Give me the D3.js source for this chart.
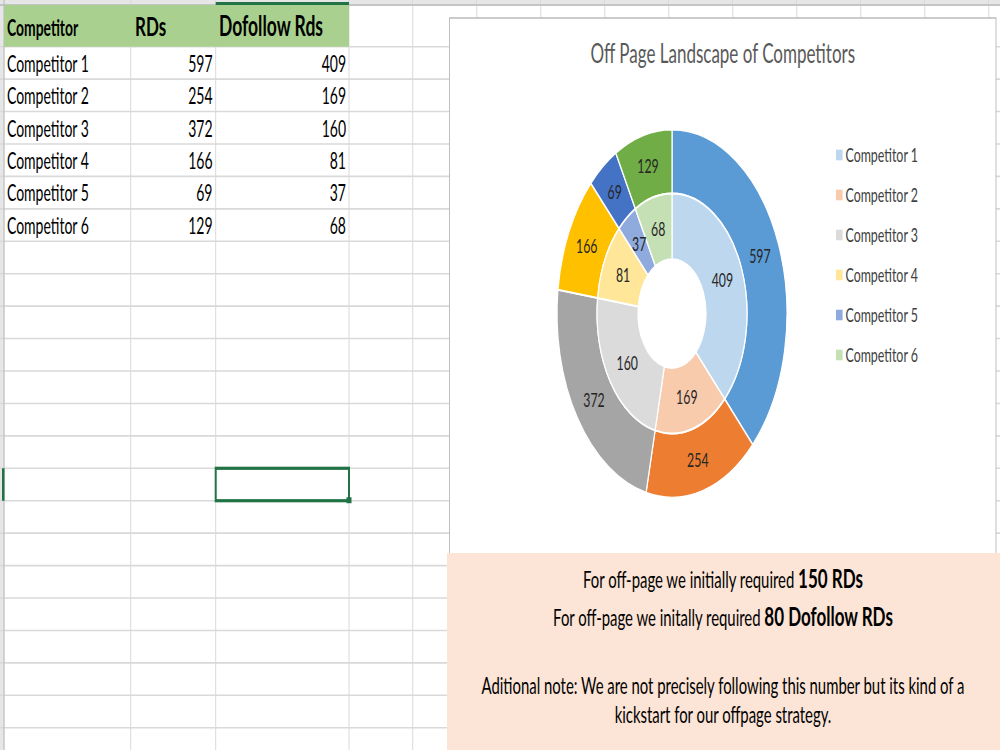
<!DOCTYPE html>
<html>
<head>
<meta charset="utf-8">
<script src="https://cdn.jsdelivr.net/npm/d3@7"></script>
<style>
  body { margin: 0; background: #fff; }
  svg { display: block; font-family: Lato, "Noto Sans", sans-serif; }
</style>
</head>
<body>
<svg id="sheet" width="1000" height="750"></svg>
<script>
/* Data */
const headers = ["Competitor", "RDs", "Dofollow Rds"];
const competitors = ["Competitor 1", "Competitor 2", "Competitor 3", "Competitor 4", "Competitor 5", "Competitor 6"];
const rds = [597, 254, 372, 166, 69, 129];
const dofollow = [409, 169, 160, 81, 37, 68];

const chartTitle = "Off Page Landscape of Competitors";
const noteLines = [
  [["For off-page we initially required ", false], ["150 RDs", true]],
  [["For off-page we initally required ", false], ["80 Dofollow RDs", true]],
  [["Aditional note: We are not precisely following this number but its kind of a", false]],
  [["kickstart for our offpage strategy.", false]],
];

const outerColors = ["#5B9BD5", "#ED7D31", "#A5A5A5", "#FFC000", "#4472C4", "#70AD47"];
const innerColors = ["#BDD7EE", "#F8CBAD", "#DBDBDB", "#FFE699", "#8FAADC", "#C5E0B4"];

// the screenshot is squashed: everything is 1.6x taller than wide,
// so draw in unstretched units and scale the whole sheet vertically
const SY = 1.6;
const y = (v) => v / SY;

const svg = d3.select("#sheet");
const sheet = svg.append("g").attr("transform", `scale(1,${SY})`);

/* ---- spreadsheet grid ---- */
const headerTop = 5, headerBottom = 46.7, rowH = 32.43;
const colEdges = [4, 130.7, 215.7, 349, 412.7];
for (let x = 412.7 + 64; x < 1000; x += 64) colEdges.push(x);
const rowEdges = [headerTop];
for (let r = headerBottom; r < 760; r += rowH) rowEdges.push(r);

// column header strip + row header strip
sheet.append("rect").attr("x", 0).attr("y", 0).attr("width", 1000).attr("height", y(headerTop)).attr("fill", "#E6E6E6");
sheet.append("rect").attr("x", 0).attr("y", 0).attr("width", 4).attr("height", y(750)).attr("fill", "#E6E6E6");

const grid = sheet.append("g").attr("stroke", "#D9D9D9").attr("stroke-width", 1);
grid.selectAll(".v").data(colEdges).join("line")
  .attr("x1", (d) => d).attr("x2", (d) => d)
  .attr("y1", 0).attr("y2", y(750));
grid.selectAll(".h").data(rowEdges).join("line")
  .attr("x1", 0).attr("x2", 1000)
  .attr("y1", (d) => y(d)).attr("y2", (d) => y(d));

sheet.append("line").attr("x1", 4).attr("x2", 4).attr("y1", 0).attr("y2", y(750))
  .attr("stroke", "#BDBDBD");
sheet.append("line").attr("x1", 0).attr("x2", 1000).attr("y1", y(headerTop)).attr("y2", y(headerTop))
  .attr("stroke", "#BDBDBD");

// header row fill
sheet.append("rect")
  .attr("x", colEdges[0]).attr("y", y(headerTop))
  .attr("width", colEdges[3] - colEdges[0]).attr("height", y(headerBottom - headerTop))
  .attr("fill", "#A9D08E");

// header texts
const headerCells = [
  { x: 7, anchor: "start", size: 13.9 },
  { x: 135, anchor: "start", size: 17 },
  { x: 219, anchor: "start", size: 17.5 },
];
sheet.selectAll(".hdr").data(headers).join("text")
  .attr("x", (d, i) => headerCells[i].x)
  .attr("y", y(36.5))
  .attr("text-anchor", (d, i) => headerCells[i].anchor)
  .attr("font-size", (d, i) => headerCells[i].size)
  .attr("font-weight", "bold")
  .attr("fill", "#000")
  .text((d) => d);

// data rows
const rows = sheet.selectAll(".row").data(competitors).join("g")
  .attr("transform", (d, i) => `translate(0,${y(headerBottom + rowH * i + 25)})`)
  .attr("font-size", 14).attr("fill", "#000");
rows.append("text").attr("x", 7).text((d) => d);
rows.append("text").attr("x", 212.5).attr("text-anchor", "end").text((d, i) => rds[i]);
rows.append("text").attr("x", 346).attr("text-anchor", "end").text((d, i) => dofollow[i]);

// selected cell C15 and its highlights
const selTop = headerBottom + rowH * 13;
sheet.append("rect")
  .attr("x", colEdges[2]).attr("y", y(selTop))
  .attr("width", colEdges[3] - colEdges[2]).attr("height", y(rowH))
  .attr("fill", "none").attr("stroke", "#217346").attr("stroke-width", 2);
sheet.append("rect")
  .attr("x", colEdges[3] - 2.5).attr("y", y(selTop + rowH - 3.5))
  .attr("width", 5).attr("height", y(6)).attr("fill", "#217346");
sheet.append("rect")
  .attr("x", colEdges[2]).attr("y", y(headerTop - 3))
  .attr("width", colEdges[3] - colEdges[2]).attr("height", y(3)).attr("fill", "#217346");
sheet.append("rect")
  .attr("x", 2).attr("y", y(selTop))
  .attr("width", 2.5).attr("height", y(rowH)).attr("fill", "#217346");

/* ---- chart object ---- */
const chartBox = { x: 449.5, y: 18, w: 546.5, h: 560 };
sheet.append("rect")
  .attr("x", chartBox.x).attr("y", y(chartBox.y))
  .attr("width", chartBox.w).attr("height", y(chartBox.h))
  .attr("fill", "#fff").attr("stroke", "#BFBFBF").attr("stroke-width", 1);

sheet.append("text")
  .attr("x", chartBox.x + chartBox.w / 2)
  .attr("y", y(63))
  .attr("text-anchor", "middle")
  .attr("font-size", 17)
  .attr("fill", "#595959")
  .text(chartTitle);

const cx = 672, cy = y(313.5);
const rHole = 34, rMid = 75, rOuter = 115;

// both rings in the picture share the RDs angles; the inner one is labelled with Dofollow values
const slices = d3.pie().sort(null).value((d) => d)(rds);
const outerArc = d3.arc().innerRadius(rMid).outerRadius(rOuter);
const innerArc = d3.arc().innerRadius(rHole).outerRadius(rMid);

const donut = sheet.append("g").attr("transform", `translate(${cx},${cy})`);

donut.selectAll(".outer").data(slices).join("path")
  .attr("d", outerArc)
  .attr("fill", (d, i) => outerColors[i])
  .attr("stroke", "#fff").attr("stroke-width", 1.2);

donut.selectAll(".inner").data(slices).join("path")
  .attr("d", innerArc)
  .attr("fill", (d, i) => innerColors[i])
  .attr("stroke", "#fff").attr("stroke-width", 1.2);

donut.selectAll(".olab").data(slices).join("text")
  .attr("transform", (d) => `translate(${outerArc.centroid(d)})`)
  .attr("text-anchor", "middle").attr("dy", "0.35em")
  .attr("font-size", 12.3).attr("fill", "#262626")
  .text((d, i) => rds[i]);

donut.selectAll(".ilab").data(slices).join("text")
  .attr("transform", (d) => `translate(${innerArc.centroid(d)})`)
  .attr("text-anchor", "middle").attr("dy", "0.35em")
  .attr("font-size", 12.3).attr("fill", "#262626")
  .text((d, i) => dofollow[i]);

// legend
const legend = sheet.selectAll(".leg").data(competitors).join("g")
  .attr("transform", (d, i) => `translate(836,${y(155 + 40 * i)})`);
legend.append("rect")
  .attr("x", 0).attr("y", -3.3).attr("width", 6.6).attr("height", 6.6)
  .attr("fill", (d, i) => innerColors[i]);
legend.append("text")
  .attr("x", 9.5).attr("dy", "0.35em")
  .attr("font-size", 12.4).attr("fill", "#404040")
  .text((d) => d);

/* ---- note box ---- */
sheet.append("rect")
  .attr("x", 447).attr("y", y(553))
  .attr("width", 553).attr("height", y(197))
  .attr("fill", "#FCE4D6");

const noteBaselines = [588, 626, 694, 723];
const notes = sheet.selectAll(".note").data(noteLines).join("text")
  .attr("x", 723).attr("y", (d, i) => y(noteBaselines[i]))
  .attr("text-anchor", "middle").attr("fill", "#000");
notes.selectAll("tspan").data((d) => d).join("tspan")
  .attr("font-size", (d) => (d[1] ? 17 : 14.9))
  .attr("font-weight", (d) => (d[1] ? "bold" : "normal"))
  .text((d) => d[0]);
</script>
</body>
</html>
